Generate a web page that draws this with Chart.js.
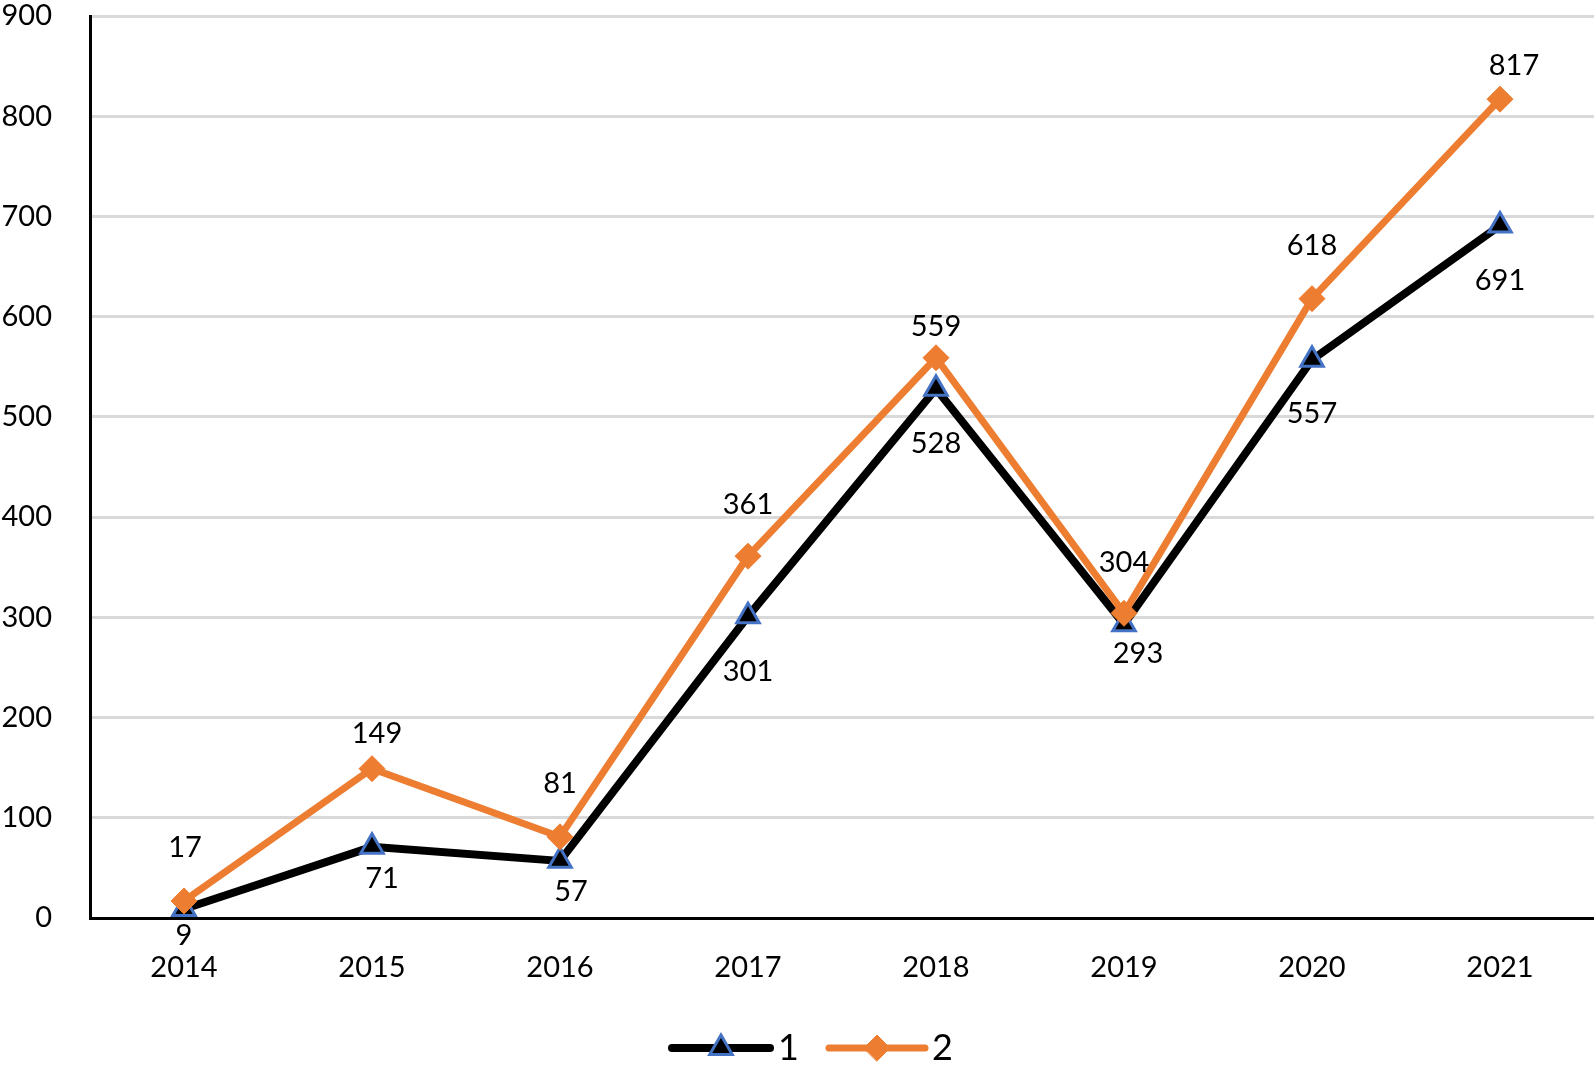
<!DOCTYPE html>
<html>
<head>
<meta charset="utf-8">
<script src="https://cdn.jsdelivr.net/npm/chart.js@4/dist/chart.umd.min.js"></script>
<style>
  html, body { margin: 0; padding: 0; background: #fff; }
  #wrap { width: 1594px; height: 1075px; position: relative; }
</style>
</head>
<body>
<div id="wrap"><canvas id="c" width="1594" height="1075"></canvas></div>
<script>
const categories = ['2014', '2015', '2016', '2017', '2018', '2019', '2020', '2021'];
const series1Name = '1';
const series1 = [9, 71, 57, 301, 528, 293, 557, 691];
const series2Name = '2';
const series2 = [17, 149, 81, 361, 559, 304, 618, 817];
const yTicks = [0, 100, 200, 300, 400, 500, 600, 700, 800, 900];

const FONT = 'Lato, "Open Sans", "DejaVu Sans", sans-serif';
const BLACK = '#000000';
const ORANGE = '#ED7D31';
const BLUE = '#4472C4';

// label placement (pixel offsets from each point), styling only
const labelOffsets = [
  [[0, 27], [10, 32], [11, 31], [0, 55], [0, 55], [14, 29], [0, 54], [0, 55]],
  [[1, -53], [5, -35], [0, -53], [0, -52], [0, -31], [0, -51], [0, -53], [14, -34]]
];

const dataLabelPlugin = {
  id: 'dataLabels',
  afterDatasetsDraw(chart) {
    const ctx = chart.ctx;
    ctx.save();
    ctx.font = '29px ' + FONT;
    ctx.fillStyle = '#000';
    ctx.textAlign = 'center';
    ctx.textBaseline = 'middle';
    chart.data.datasets.forEach((ds, di) => {
      const meta = chart.getDatasetMeta(di);
      meta.data.forEach((pt, i) => {
        const off = labelOffsets[di][i];
        ctx.fillText(String(ds.data[i]), pt.x + off[0], pt.y + off[1]);
      });
    });
    ctx.restore();
  }
};

const legendPlugin = {
  id: 'customLegend',
  afterDraw(chart) {
    const ctx = chart.ctx;
    const y = 1048;
    const items = [
      { x0: 672, x1: 770, color: BLACK, width: 8, style: 'triangle', bg: BLACK, border: BLUE, bw: 3, r: 13, text: series1Name, tx: 778 },
      { x0: 829, x1: 925, color: ORANGE, width: 7, style: 'rectRot', bg: ORANGE, border: ORANGE, bw: 1, r: 13, text: series2Name, tx: 932 }
    ];
    ctx.save();
    items.forEach(it => {
      ctx.beginPath();
      ctx.lineCap = 'round';
      ctx.strokeStyle = it.color;
      ctx.lineWidth = it.width;
      ctx.moveTo(it.x0, y);
      ctx.lineTo(it.x1, y);
      ctx.stroke();
      ctx.fillStyle = it.bg;
      ctx.strokeStyle = it.border;
      ctx.lineWidth = it.bw;
      Chart.helpers.drawPoint(ctx, { pointStyle: it.style, radius: it.r, borderWidth: it.bw, rotation: 0 }, (it.x0 + it.x1) / 2, y);
      ctx.fillStyle = '#000';
      ctx.font = '36px ' + FONT;
      ctx.textAlign = 'left';
      ctx.textBaseline = 'middle';
      ctx.fillText(it.text, it.tx, y);
    });
    ctx.restore();
  }
};

new Chart(document.getElementById('c'), {
  type: 'line',
  data: {
    labels: categories,
    datasets: [
      {
        label: series1Name,
        data: series1,
        borderColor: BLACK,
        borderWidth: 8,
        backgroundColor: BLACK,
        pointStyle: 'triangle',
        pointRadius: 13,
        pointBackgroundColor: BLACK,
        pointBorderColor: BLUE,
        pointBorderWidth: 3,
        tension: 0,
        clip: false,
        order: 1
      },
      {
        label: series2Name,
        data: series2,
        borderColor: ORANGE,
        borderWidth: 7,
        backgroundColor: ORANGE,
        pointStyle: 'rectRot',
        pointRadius: 13,
        pointBackgroundColor: ORANGE,
        pointBorderColor: ORANGE,
        pointBorderWidth: 1,
        tension: 0,
        clip: false,
        order: 0
      }
    ]
  },
  options: {
    responsive: false,
    animation: false,
    devicePixelRatio: 1,
    layout: { autoPadding: false, padding: { top: 16, right: 0, bottom: 0, left: 0 } },
    plugins: {
      legend: { display: false },
      tooltip: { enabled: false }
    },
    scales: {
      x: {
        offset: true,
        grid: { display: false, drawTicks: false },
        border: { display: true, color: BLACK, width: 3 },
        ticks: { color: '#000', font: { size: 29, family: FONT }, padding: 32, maxRotation: 0 },
        afterFit(scale) { scale.height = 157; scale.paddingLeft = 0; scale.paddingRight = 0; }
      },
      y: {
        min: 0,
        max: 900,
        afterBuildTicks(scale) { scale.ticks = yTicks.map(v => ({ value: v })); },
        grid: { color: '#D9D9D9', lineWidth: 3, drawTicks: false },
        border: { display: true, color: BLACK, width: 3 },
        ticks: { color: '#000', font: { size: 29, family: FONT }, padding: 38 },
        afterFit(scale) { scale.width = 90; scale.paddingTop = 0; scale.paddingBottom = 0; }
      }
    }
  },
  plugins: [dataLabelPlugin, legendPlugin]
});
</script>
</body>
</html>
